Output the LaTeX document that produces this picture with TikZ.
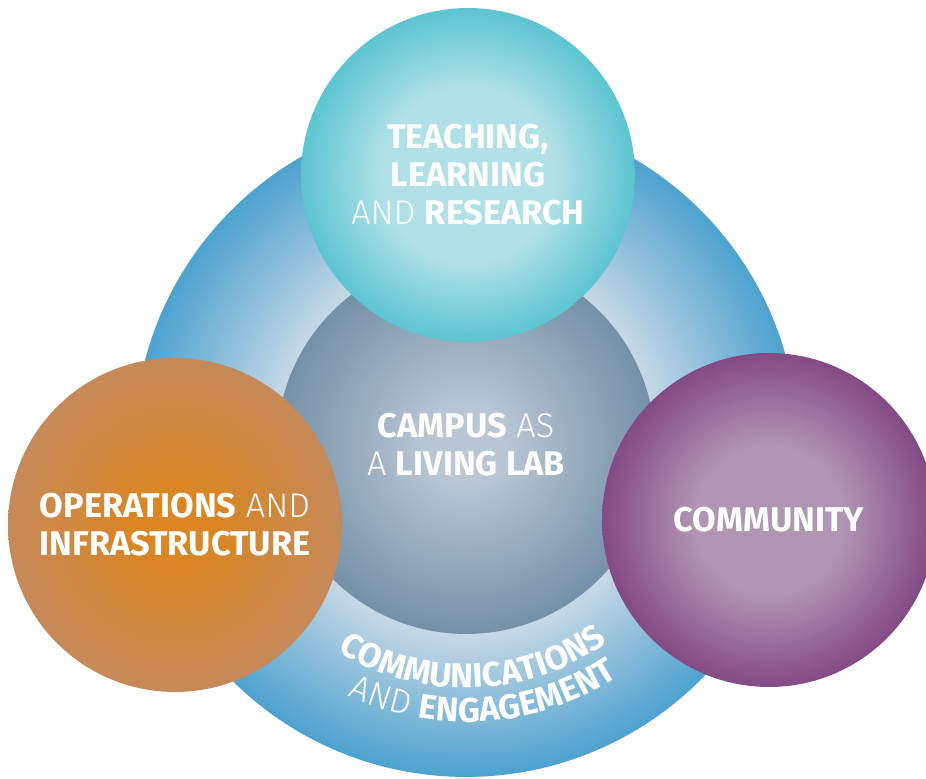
\documentclass[tikz,border=0pt]{standalone}
\usepackage{fontspec}
\setmainfont{Fira Sans}[UprightFont={* Light},BoldFont={* Bold}]
\usetikzlibrary{positioning,decorations.text}

\definecolor{ringpale}{HTML}{C9D9E5}
\definecolor{ringblue}{HTML}{4DA2CF}
\definecolor{labpale}{HTML}{B9C7D5}
\definecolor{labdark}{HTML}{7590A6}
\definecolor{teachpale}{HTML}{B1E1E6}
\definecolor{teachdark}{HTML}{5CC5D1}
\definecolor{opspale}{HTML}{D98624}
\definecolor{opsdark}{HTML}{C68A5A}
\definecolor{commpale}{HTML}{B196B4}
\definecolor{commdark}{HTML}{834A84}

\pgfdeclareradialshading{ringshade}{\pgfpointorigin}{color(0bp)=(ringpale); color(14bp)=(ringpale); color(25bp)=(ringblue); color(50bp)=(ringblue)}
\pgfdeclareradialshading{labshade}{\pgfpointorigin}{color(0bp)=(labpale); color(5bp)=(labpale); color(25bp)=(labdark); color(50bp)=(labdark)}
\pgfdeclareradialshading{teachshade}{\pgfpointorigin}{color(0bp)=(teachpale); color(13bp)=(teachpale); color(25bp)=(teachdark); color(50bp)=(teachdark)}
\pgfdeclareradialshading{opsshade}{\pgfpointorigin}{color(0bp)=(opspale); color(6bp)=(opspale); color(25bp)=(opsdark); color(50bp)=(opsdark)}
\pgfdeclareradialshading{commshade}{\pgfpointorigin}{color(0bp)=(commpale); color(11bp)=(commpale); color(25bp)=(commdark); color(50bp)=(commdark)}

\tikzset{
    bubble/.style={circle, inner sep=0pt, outer sep=0pt, minimum size=6.68cm,
        align=center, text=white, font=\fontsize{19.5}{21.6}\selectfont},
    arctext/.style={decorate, decoration={text along path, text align=center,
        text color=white, text={#1}}}
}

\begin{document}
\begin{tikzpicture}[x=0.02cm, y=0.02cm]
    \useasboundingbox (0,0) rectangle (926,778);

    % Outer ring and centre
    \node[circle, minimum size=13.28cm, inner sep=0pt, shading=ringshade] (ring) at (466,333) {};
    \node[bubble, minimum size=7.56cm, shading=labshade] (lab) at (466,333)
        {\textbf{CAMPUS} AS\\A \textbf{LIVING LAB}};

    % The three pillars
    \node[bubble, shading=teachshade] (teach) at (468,603)
        {\textbf{TEACHING,}\\\textbf{LEARNING}\\AND \textbf{RESEARCH}};
    \node[bubble, shading=opsshade] (ops) at (175,253)
        {\textbf{OPERATIONS} AND\\\textbf{INFRASTRUCTURE}};
    \node[bubble, shading=commshade] (comm) at (769,258)
        {\textbf{COMMUNITY}};

    % Curved label on the ring
    \path[arctext={|\fontsize{19.5}{22}\selectfont\bfseries|COMMUNICATIONS}]
        ([shift={(224:243)}]ring.center) arc (224:320:243);
    \path[arctext={|\fontsize{19.5}{22}\selectfont\mdseries|AND |\fontsize{19.5}{22}\selectfont\bfseries|ENGAGEMENT}]
        ([shift={(226:277)}]ring.center) arc (226:322:277);
\end{tikzpicture}
\end{document}
